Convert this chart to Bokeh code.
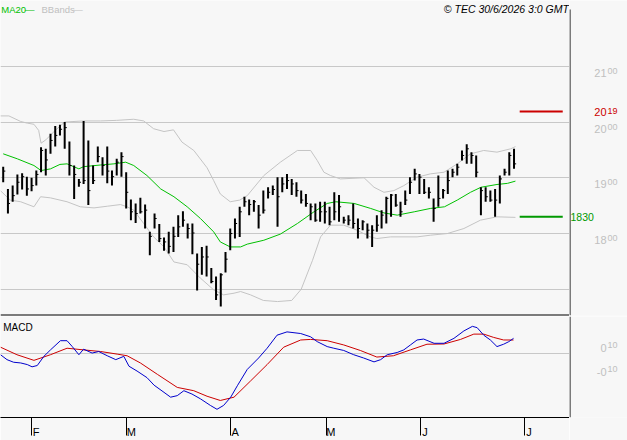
from bokeh.plotting import figure
from bokeh.layouts import column, row
from bokeh.models import Range1d, FixedTicker, Label, Span, LinearAxis
from bokeh.embed import file_html
from bokeh.resources import INLINE

# ---------------- data ----------------
high = [1920, 1880, 1886, 1906, 1908, 1902, 1900, 1913, 1955, 1952,
        1979, 1993, 1995, 2000, 1965, 1922, 1898, 2002, 1967, 1922,
        1956, 1937, 1956, 1913, 1934, 1946, 1910, 1861, 1854, 1864,
        1852, 1803, 1836, 1817, 1793, 1803, 1812, 1833, 1840, 1818,
        1818, 1764, 1776, 1778, 1738, 1723, 1729, 1767, 1809, 1827,
        1848, 1866, 1861,
        1860, 1851, 1877, 1883, 1886, 1901, 1901, 1907, 1898, 1892,
        1877, 1871, 1854, 1854, 1857, 1857, 1848, 1874, 1869, 1830,
        1833, 1854, 1827, 1824, 1818, 1815, 1833, 1842, 1866, 1871,
        1871, 1857, 1877, 1901, 1916, 1907, 1898, 1883, 1863, 1904,
        1880, 1913, 1916, 1925, 1949, 1960, 1946, 1940, 1883, 1883,
        1877, 1880, 1904, 1916, 1946, 1952]
low = [1892, 1836, 1857, 1870, 1879, 1868, 1876, 1886, 1910, 1904,
       1943, 1956, 1976, 1952, 1904, 1862, 1884, 1889, 1851, 1889,
       1928, 1904, 1890, 1886, 1904, 1902, 1845, 1824, 1819, 1836,
       1809, 1761, 1809, 1785, 1769, 1764, 1767, 1794, 1812, 1791,
       1763, 1698, 1726, 1723, 1711, 1681, 1669, 1730, 1770, 1791,
       1794, 1848, 1833,
       1839, 1809, 1836, 1863, 1869, 1812, 1874, 1880, 1869, 1866,
       1854, 1848, 1824, 1821, 1821, 1818, 1815, 1824, 1821, 1818,
       1815, 1809, 1791, 1806, 1791, 1776, 1803, 1809, 1818, 1830,
       1848, 1830, 1851, 1871, 1895, 1871, 1871, 1863, 1821, 1848,
       1863, 1871, 1901, 1904, 1931, 1925, 1925, 1901, 1833, 1857,
       1857, 1830, 1854, 1904, 1904, 1916]
close = [1912, 1854, 1868, 1892, 1902, 1880, 1886, 1906, 1949, 1932,
         1967, 1976, 1987, 1990, 1922, 1906, 1892, 1895, 1877, 1895,
         1938, 1922, 1912, 1902, 1928, 1938, 1874, 1839, 1836, 1839,
         1842, 1795, 1827, 1791, 1785, 1777, 1795, 1812, 1824, 1809,
         1801, 1745, 1758, 1758, 1714, 1690, 1726, 1754, 1800, 1818,
         1839, 1857, 1852,
         1857, 1833, 1842, 1874, 1879, 1866, 1889, 1895, 1889, 1877,
         1860, 1854, 1848, 1824, 1839, 1839, 1821, 1839, 1848, 1824,
         1824, 1818, 1809, 1821, 1806, 1806, 1815, 1833, 1863, 1869,
         1851, 1839, 1860, 1892, 1907, 1901, 1874, 1874, 1845, 1863,
         1877, 1895, 1910, 1919, 1940, 1952, 1940, 1910, 1877, 1866,
         1860, 1860, 1898, 1910, 1940, 1925]
bars = list(range(len(close)))

ma20_x = [0, 3, 6.5, 8, 10, 12, 13.5, 16, 17, 20.6, 23.4, 25.9, 27.6, 30.4, 33.3,
          36.1, 38.9, 41.7, 44.5, 45.9, 48, 50.2, 51.6, 55.1, 58.6, 62.2, 65.7,
          68.5, 70.3, 74.2, 77.7, 80.5, 83.3, 86.9, 90.3, 93.3, 96, 98.8, 101,
          104.4, 106.6, 108.3]
ma20_y = [1943, 1934, 1922, 1913, 1916, 1924, 1925, 1916, 1920, 1923, 1925, 1928,
          1922, 1904, 1880, 1866, 1848, 1827, 1803, 1785, 1776, 1776, 1781, 1788,
          1799, 1818, 1839, 1854, 1857, 1854, 1845, 1837, 1833, 1839, 1845, 1848,
          1860, 1874, 1883, 1888, 1890, 1894]

bbu_x = [-0.6, 1.2, 3.7, 5.1, 6.5, 7.5, 8, 9, 11, 13, 17, 20.6, 24, 27.6, 29.7,
         31.8, 34, 36, 37.8, 40.3, 43.1, 44.5, 45.9, 48, 50, 51.6, 55.1, 58.6,
         62.2, 65, 66.4, 67.8, 69.2, 71.3, 76.3, 78.4, 80.5, 82.6, 84.7, 87.5,
         90.3, 93.2, 96, 98.8, 101.6, 104.4, 107.3, 108.3]
bbu_y = [2011, 2011, 2001, 1998, 1996, 1985, 1962, 1968, 1985, 2000, 2002, 2002,
         2003, 2005, 2002, 1988, 1983, 1986, 1964, 1949, 1918, 1895, 1871, 1857,
         1860, 1868, 1904, 1928, 1949, 1949, 1931, 1910, 1904, 1898, 1900, 1883,
         1874, 1877, 1886, 1901, 1907, 1910, 1925, 1943, 1949, 1946, 1952, 1956]

bbl_x = [-0.6, 1.5, 3.7, 6.5, 7.9, 10, 13.5, 16.3, 19.2, 22, 24.8, 26.2, 27.6,
         29.7, 31.8, 34, 36.1, 38.9, 41.7, 44.5, 46.6, 48.8, 50.2, 52.3, 55, 58,
         61, 63, 65.4, 67.1, 69.2, 72, 74.8, 77.6, 79, 81.9, 87.5, 90.3, 93.9,
         97.4, 100.9, 104.4, 108.3]
bbl_y = [1877, 1860, 1857, 1848, 1866, 1864, 1857, 1848, 1846, 1849, 1852, 1848,
         1842, 1818, 1794, 1776, 1749, 1744, 1720, 1699, 1690, 1693, 1696, 1690,
         1680, 1678, 1680, 1700, 1752, 1794, 1815, 1815, 1806, 1794, 1791, 1794,
         1794, 1797, 1800, 1809, 1824, 1830, 1829]

macd_x = [-0.57, 0.8, 2.2, 3.7, 5.1, 6.1, 7.2, 8.6, 10, 12.1, 13.5, 14.6, 16, 17,
          18.8, 20.2, 22, 23.8, 25.5, 26.6, 28.3, 30.4, 31.9, 34, 35.4, 36.8,
          38.2, 39.9, 41.7, 43.8, 45.2, 46.6, 48.1, 49.5, 51.6, 54, 55.8, 57.9,
          60, 62.9, 65, 66.4, 68.5, 69.9, 72, 74.1, 76.2, 78.4, 79.8, 81.2, 83.3,
          84.7, 86.1, 87.5, 88.9, 91.1, 93.2, 95.3, 97.4, 99.2, 100.2, 101.6,
          103, 104.4, 105.8, 106.9, 107.9]
macd_y = [-0.008, -0.05, -0.072, -0.078, -0.092, -0.111, -0.1, -0.022, 0.033,
          0.111, 0.111, 0.061, -0.008, 0.039, 0.006, 0.019, -0.017, -0.05,
          -0.022, -0.106, -0.147, -0.203, -0.267, -0.328, -0.369, -0.356,
          -0.314, -0.342, -0.383, -0.439, -0.472, -0.439, -0.369, -0.272,
          -0.133, -0.036, 0.047, 0.158, 0.186, 0.172, 0.144, 0.103, 0.061,
          0.047, 0.028, -0.008, -0.036, -0.069, -0.05, -0.008, 0.011, 0.033,
          0.075, 0.117, 0.125, 0.089, 0.089, 0.131, 0.194, 0.233, 0.222, 0.158,
          0.117, 0.061, 0.081, 0.103, 0.131]

signal_x = [-0.57, 2.9, 6.5, 10, 13.5, 17, 20.6, 24.1, 26.2, 29, 32.6, 36.8, 40.3,
            43.1, 45.9, 48.8, 52.3, 55.8, 59.3, 62.9, 65, 68.5, 72, 75.5, 79,
            82.5, 86.1, 89.6, 93.2, 96.7, 99.5, 101.6, 103.7, 105.8, 107.9]
signal_y = [0.056, -0.008, -0.056, -0.008, 0.047, 0.033, 0.019, -0.003, -0.017,
            -0.078, -0.175, -0.286, -0.314, -0.361, -0.397, -0.369, -0.231,
            -0.092, 0.056, 0.117, 0.122, 0.111, 0.075, 0.028, -0.028, -0.017,
            0.033, 0.081, 0.083, 0.122, 0.167, 0.167, 0.139, 0.117, 0.117]

month_ticks = [6, 26.1, 48.1, 68.3, 88.2, 110.2]
month_labels = ["F", "M", "A", "M", "J", "J"]
price_grid = [1700, 1800, 1900, 2000, 2100]
price_labels = [1800, 1900, 2000, 2100]
macd_labels = [0.1, -0.1]
resistance = 2019
support = 1830

# ---------------- style ----------------
BG = "#f7f7f7"
GRID = "#c8c8c8"
LBL = "#c0c0c0"
RED = "#cc0000"
GREEN_LVL = "#009900"
GREEN_MA = "#00c000"
FONT = "Liberation Sans"
X_RANGE = Range1d(-0.571, 119.73)
Y_MAIN = Range1d(1653.0, 2218.0)
Y_MACD = Range1d(-0.5417, 0.3167)
TOP = 2201.9          # value at the level of the top text baseline
MAIN_W, SIDE_W = 569, 58


def base_fig(w, h, xr, yr, **kw):
    f = figure(width=w, height=h, x_range=xr, y_range=yr, output_backend="svg",
               toolbar_location=None, x_axis_location=None, y_axis_location=None,
               background_fill_color=BG, border_fill_color=BG, outline_line_color=None,
               min_border_left=0, min_border_right=0, **kw)
    f.xgrid.visible = False
    f.ygrid.visible = False
    return f


def lab(fig, x, y, text, size, color, align="left", base="middle", yoff=0, style="normal"):
    fig.add_layout(Label(x=x, y=y, text=text, text_font=FONT,
                         text_font_size=size, text_color=color, text_align=align,
                         text_baseline=base, y_offset=yoff, text_font_style=style))


# ---------------- main price panel ----------------
p = base_fig(MAIN_W, 316, X_RANGE, Y_MAIN, min_border_top=0, min_border_bottom=1)
p.ygrid.visible = True
p.ygrid.ticker = FixedTicker(ticks=price_grid)
p.ygrid.grid_line_color = GRID

p.line(bbu_x, bbu_y, line_color="#c4c4c4", line_width=1)
p.line(bbl_x, bbl_y, line_color="#c4c4c4", line_width=1)
p.line(ma20_x, ma20_y, line_color=GREEN_MA, line_width=1)

p.segment(x0=bars, y0=low, x1=bars, y1=high, line_color="black", line_width=2)
p.segment(x0=bars, y0=close, x1=[b + 0.45 for b in bars], y1=close,
          line_color="black", line_width=1)

last = bars[-1]
p.segment(x0=[last + 1.2], x1=[last + 10.3], y0=[resistance], y1=[resistance],
          line_color=RED, line_width=2)
p.segment(x0=[last + 1.2], x1=[last + 10.3], y0=[support], y1=[support],
          line_color=GREEN_LVL, line_width=2)

p.add_layout(Span(location=Y_MAIN.start, dimension="width", line_color="black", line_width=2))

lab(p, -0.4, TOP, "MA20", "9.5px", GREEN_MA, "left", "alphabetic")
lab(p, 4.6, TOP, "\u2014", "9.5px", GREEN_MA, "left", "alphabetic")
lab(p, 8.1, TOP, "BBands", "9.5px", LBL, "left", "alphabetic")
lab(p, 14.8, TOP, "\u2014", "9.5px", LBL, "left", "alphabetic")
lab(p, 119.6, TOP, "\u00a9 TEC 30/6/2026 3:0 GMT", "10.5px", "black", "right",
    "alphabetic", 0, "italic")

# ---------------- right label strip (price) ----------------
s1 = base_fig(SIDE_W, 316, Range1d(0, SIDE_W), Y_MAIN, min_border_top=0, min_border_bottom=1)
s1.segment(x0=[0.5], x1=[0.5], y0=[TOP], y1=[Y_MAIN.start], line_color="black", line_width=1)
for t in price_labels:
    s = str(t)
    lab(s1, 37, t, s[:2], "11px", LBL, "right", "middle", -6.5)
    lab(s1, 38, t, s[2:], "9px", LBL, "left", "middle", -4.5)
rs = str(resistance)
lab(s1, 37, resistance, rs[:2], "11px", RED, "right", "middle", -1)
lab(s1, 38, resistance, rs[2:], "9px", RED, "left", "middle", 0.5)
lab(s1, 1, support, str(support), "10.5px", GREEN_LVL, "left", "middle", -0.6)

# ---------------- MACD panel ----------------
m = base_fig(MAIN_W, 124, X_RANGE, Y_MACD, min_border_top=0, min_border_bottom=21)
m.ygrid.visible = True
m.ygrid.ticker = FixedTicker(ticks=[0])
m.ygrid.grid_line_color = GRID
mx = LinearAxis(ticker=FixedTicker(ticks=month_ticks))
mx.major_label_overrides = {t: "\u00a0\u00a0\u00a0" + l for t, l in zip(month_ticks, month_labels)}
mx.major_tick_out = 18
mx.major_tick_in = 0
mx.minor_tick_line_color = None
mx.major_tick_line_color = "black"
mx.axis_line_color = "black"
mx.major_label_standoff = -10
mx.major_label_text_font = FONT
mx.major_label_text_font_size = "11px"
mx.major_label_text_color = "black"
m.add_layout(mx, "below")

m.line(signal_x, signal_y, line_color=RED, line_width=1)
m.line(macd_x, macd_y, line_color="#0000cc", line_width=1)
lab(m, 0.0, 0.271, "MACD", "10px", "black", "left", "top")

# ---------------- right label strip (MACD) ----------------
s2 = base_fig(SIDE_W, 124, Range1d(0, SIDE_W), Y_MACD, min_border_top=0, min_border_bottom=21)
s2.add_layout(Span(location=0.5, dimension="height", line_color="black", line_width=1))
for v in macd_labels:
    big = "0" if v > 0 else "-0"
    small = "%02d" % round(abs(v) * 100)
    lab(s2, 37, v, big, "11px", LBL, "right", "middle", -6)
    lab(s2, 38, v, small, "9px", LBL, "left", "middle", -3.5)

layout = column(row(p, s1, spacing=0), row(m, s2, spacing=0), spacing=0)
open("out.html", "w").write(file_html(layout, INLINE))
